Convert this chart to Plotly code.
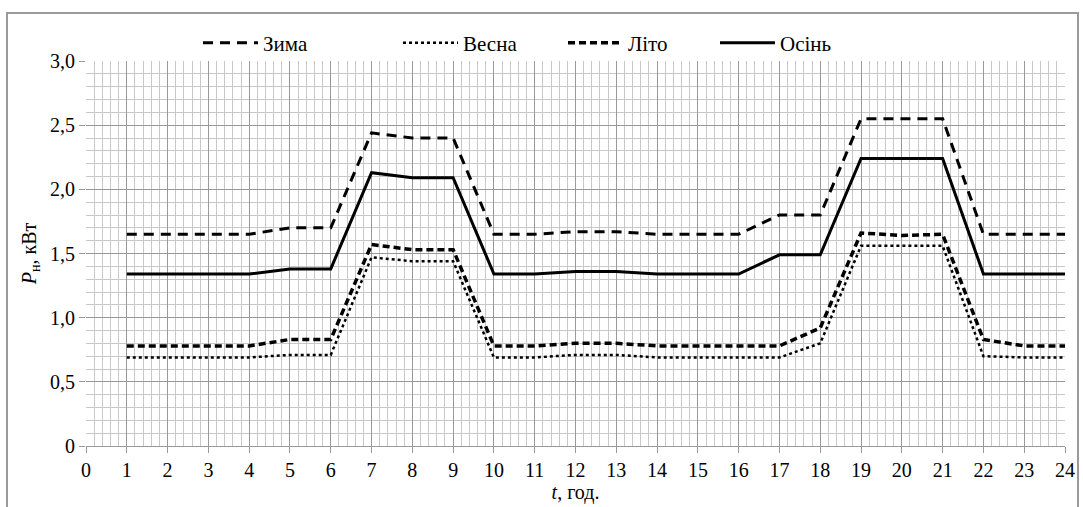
import plotly.graph_objects as go

hours = list(range(1, 25))
zyma = [1.65, 1.65, 1.65, 1.65, 1.70, 1.70, 2.44, 2.40, 2.40, 1.65, 1.65, 1.67,
        1.67, 1.65, 1.65, 1.65, 1.80, 1.80, 2.55, 2.55, 2.55, 1.65, 1.65, 1.65]
vesna = [0.69, 0.69, 0.69, 0.69, 0.71, 0.71, 1.47, 1.44, 1.44, 0.69, 0.69, 0.71,
         0.71, 0.69, 0.69, 0.69, 0.69, 0.80, 1.56, 1.56, 1.56, 0.70, 0.69, 0.69]
lito = [0.78, 0.78, 0.78, 0.78, 0.83, 0.83, 1.57, 1.53, 1.53, 0.78, 0.78, 0.80,
        0.80, 0.78, 0.78, 0.78, 0.78, 0.92, 1.66, 1.64, 1.65, 0.83, 0.78, 0.78]
osin = [1.34, 1.34, 1.34, 1.34, 1.38, 1.38, 2.13, 2.09, 2.09, 1.34, 1.34, 1.36,
        1.36, 1.34, 1.34, 1.34, 1.49, 1.49, 2.24, 2.24, 2.24, 1.34, 1.34, 1.34]

names = ["Зима", "Весна", "Літо", "Осінь"]
x_ticks = list(range(0, 25))
y_vals = [0, 0.5, 1.0, 1.5, 2.0, 2.5, 3.0]
y_text = ["0", "0,5", "1,0", "1,5", "2,0", "2,5", "3,0"]

FONT = "Times New Roman, Liberation Serif, serif"

series = [
    (zyma, names[0], dict(color="black", width=3, dash="10px,7px"), "legend"),
    (vesna, names[1], dict(color="black", width=2.5, dash="dot"), "legend2"),
    (lito, names[2], dict(color="black", width=3.5, dash="7px,4px"), "legend3"),
    (osin, names[3], dict(color="black", width=3), "legend4"),
]

fig = go.Figure()
for vals, nm, ln, lg in series:
    fig.add_trace(go.Scatter(x=hours, y=vals, name=nm, mode="lines",
                             line=dict(shape="linear", **ln),
                             legend=lg))

L, R, T, B = 86, 18, 61, 61
W, H = 1083, 507
pw = W - L - R
ph = H - T - B

def px(xp):
    return (xp - L) / pw

def py(yp):
    return (H - B - yp) / ph

leg_common = dict(orientation="h", yanchor="middle", xanchor="left",
                  font=dict(family=FONT, size=21, color="black"),
                  bgcolor="rgba(0,0,0,0)", itemwidth=55)
legend_x = [198, 398, 563, 715]
lay = {}
for i, lx in enumerate(legend_x):
    key = "legend" if i == 0 else f"legend{i+1}"
    lay[key] = dict(x=px(lx), y=py(43), **leg_common)

fig.update_layout(
    width=W, height=H,
    margin=dict(l=L, r=R, t=T, b=B, autoexpand=False),
    plot_bgcolor="white", paper_bgcolor="white",
    font=dict(family=FONT, size=20, color="black"),
    xaxis=dict(range=[0, 24], tickvals=x_ticks, ticks="outside", ticklen=6,
               tickcolor="#999999", showgrid=True, gridcolor="#9a9a9a", gridwidth=1,
               minor=dict(dtick=0.2, showgrid=True, gridcolor="#c8c8c8", gridwidth=1),
               showline=True, linecolor="#999999", zeroline=False, automargin=False,
               title=dict(text="<i>t</i>, год.", standoff=0,
                          font=dict(family=FONT, size=20)),
               tickfont=dict(family=FONT, size=20)),
    yaxis=dict(range=[0, 3.0], tickvals=y_vals, ticktext=y_text, ticks="outside",
               ticklen=6, tickcolor="#999999", showgrid=True, gridcolor="#9a9a9a",
               minor=dict(dtick=0.1, showgrid=True, gridcolor="#c8c8c8", gridwidth=1),
               showline=False, zeroline=False, automargin=False,
               title=dict(text="<i>P</i><sub>н</sub>, кВт", standoff=8,
                          font=dict(family=FONT, size=20)),
               tickfont=dict(family=FONT, size=20)),
    showlegend=True,
    **lay,
)

# outer frame
fig.add_shape(type="rect", xref="paper", yref="paper",
              x0=px(7), x1=px(1078), y0=py(520), y1=py(13),
              line=dict(color="#9a9a9a", width=2), fillcolor="rgba(0,0,0,0)",
              layer="below")

fig.write_html("out.html", config={"displayModeBar": False},
               post_script="document.body.style.margin='0px';document.body.style.padding='0px';")
